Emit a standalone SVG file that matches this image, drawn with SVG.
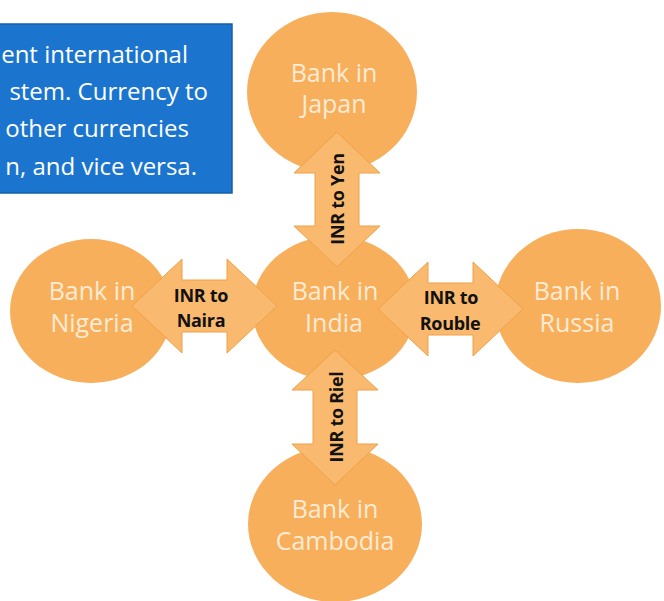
<svg xmlns="http://www.w3.org/2000/svg" width="664" height="601" viewBox="0 0 664 601">
<defs>
<style>
.circ{fill:#F8AF5C;}
.ctext{font-family:"Open Sans","Noto Sans",sans-serif;font-size:25px;fill:#FDEBD4;text-anchor:middle;}
.arrow{fill:#F9B96E;stroke:#EFA048;stroke-width:1;}
.atext{font-family:"Open Sans","Noto Sans",sans-serif;font-size:18px;font-weight:bold;fill:#111;text-anchor:middle;letter-spacing:-0.3px;}
.btext{font-family:"Open Sans","Noto Sans",sans-serif;font-size:24px;fill:#FFFFFF;text-anchor:end;}
</style>
</defs>
<rect width="664" height="601" fill="#FFFFFF"/>
<g id="note">
<rect x="-5" y="24" width="237" height="169" fill="#1B75CE" stroke="#165FA8" stroke-width="1.5"/>
<text class="btext" x="188" y="63">ent international</text>
<text class="btext" x="208" y="100">stem. Currency to</text>
<text class="btext" x="189" y="137">other currencies</text>
<text class="btext" x="197" y="175">n, and vice versa.</text>
</g>
<g id="japan">
<ellipse class="circ" cx="332" cy="92" rx="85" ry="80"/>
<text class="ctext" x="334" y="82">Bank in</text>
<text class="ctext" x="334" y="113">Japan</text>
</g>
<g id="india">
<ellipse class="circ" cx="334" cy="308" rx="82" ry="72"/>
<text class="ctext" x="335" y="300">Bank in</text>
<text class="ctext" x="334" y="332">India</text>
</g>
<g id="nigeria">
<ellipse class="circ" cx="91" cy="311" rx="81" ry="72"/>
<text class="ctext" x="92" y="300">Bank in</text>
<text class="ctext" x="92" y="332">Nigeria</text>
</g>
<g id="russia">
<ellipse class="circ" cx="578" cy="306" rx="83" ry="77"/>
<text class="ctext" x="577" y="300">Bank in</text>
<text class="ctext" x="577" y="332">Russia</text>
</g>
<g id="cambodia">
<ellipse class="circ" cx="335" cy="524" rx="87" ry="78"/>
<text class="ctext" x="335" y="518">Bank in</text>
<text class="ctext" x="335" y="550">Cambodia</text>
</g>
<g id="connectors">
<g id="arrow-yen">
<polygon class="arrow" points="337,132 380,173 359,173 359,226 380,226 337,267 294,226 315,226 315,173 294,173"/>
<text class="atext" transform="translate(344,199) rotate(-90)">INR to Yen</text>
</g>
<g id="arrow-naira">
<polygon class="arrow" points="132,306 182,259 182,280 227,280 227,259 277,306 227,353 227,332 182,332 182,353"/>
<text class="atext" x="201" y="302">INR to</text>
<text class="atext" x="201" y="327">Naira</text>
</g>
<g id="arrow-rouble">
<polygon class="arrow" points="378,309 428,262 428,283 473,283 473,262 523,309 473,356 473,335 428,335 428,356"/>
<text class="atext" x="451" y="304">INR to</text>
<text class="atext" x="450" y="330">Rouble</text>
</g>
<g id="arrow-riel">
<polygon class="arrow" points="335,350 378,390 357,390 357,444 378,444 335,485 292,444 313,444 313,390 292,390"/>
<text class="atext" transform="translate(343,417) rotate(-90)">INR to Riel</text>
</g>
</g>
</svg>
